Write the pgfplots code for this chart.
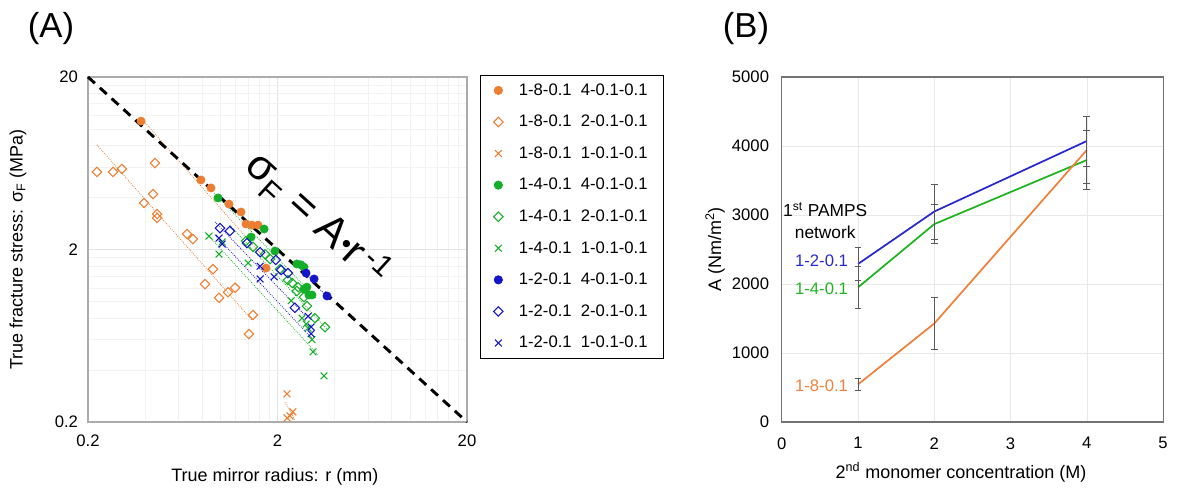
\documentclass[border=0pt]{standalone}
\usepackage{pgfplots}
\pgfplotsset{compat=1.18}
\usepackage{fontspec}
\setmainfont{Liberation Sans}
\definecolor{cO}{RGB}{237,125,49}
\definecolor{cG}{RGB}{20,175,40}
\definecolor{cB}{RGB}{20,20,200}
\definecolor{lO}{RGB}{240,128,60}
\definecolor{lG}{RGB}{30,180,30}
\definecolor{lB}{RGB}{40,40,210}

% fracture stress vs mirror radius (r in mm, sigma_F in MPa)
\pgfplotstableread{
r     s
0.381 11.1
0.789 5.06
0.891 4.55
1.109 3.67
1.284 3.30
1.364 2.81
1.467 2.77
1.578 2.77
1.74  1.56
}\tOfour
\pgfplotstableread{
r     s
0.223 5.63
0.271 5.63
0.302 5.86
0.451 6.34
0.441 4.19
0.395 3.72
0.463 3.21
0.463 3.05
0.666 2.46
0.716 2.30
0.913 1.54
0.829 1.26
0.983 1.05
1.096 1.13
1.194 1.20
1.485 0.834
1.414 0.647
}\tOtwo
\pgfplotstableread{
r     s
2.245 0.291
2.41  0.229
2.245 0.211
2.33  0.217
}\tOone
\pgfplotstableread{
r     s
0.971 3.98
1.70  2.63
1.45  2.36
1.94  1.96
2.53  1.65
2.66  1.63
2.76  1.58
2.86  1.21
2.76  1.18
3.04  1.09
2.93  1.09
}\tGfour
\pgfplotstableread{
r     s
1.364 2.24
1.485 2.07
1.72  1.88
1.83  1.76
2.06  1.54
2.27  1.33
2.39  1.28
2.57  1.21
2.53  1.15
2.76  1.06
2.86  0.94
3.15  0.80
3.56  0.71
}\tGtwo
\pgfplotstableread{
r     s
0.870 2.39
0.983 1.88
1.02  2.21
1.40  1.67
2.36  1.01
2.69  0.80
2.83  0.74
2.90  0.70
3.04  0.60
3.08  0.51
3.52  0.37
}\tGone
\pgfplotstableread{
r     s
2.83  1.46
3.12  1.35
3.65  1.075
}\tBfour
\pgfplotstableread{
r     s
0.995 2.66
1.12  2.56
1.38  2.18
1.62  1.93
1.96  1.74
2.09  1.52
2.27  1.46
2.47  0.92
}\tBtwo
\pgfplotstableread{
r     s
0.983 2.33
1.02  2.15
1.62  1.60
1.62  1.35
1.92  1.39
2.90  0.82
3.01  0.71
3.01  0.65
}\tBone

\begin{document}
\begin{tikzpicture}
\useasboundingbox (0,0) rectangle (883.5pt,370.5pt);
\pgfplotsset{every axis/.append style={font=\fontsize{12.5}{15}\selectfont},
  every axis label/.append style={font=\fontsize{13.5}{16}\selectfont},
  /pgf/number format/assume math mode=true}

% ---------- (A) ----------
\begin{axis}[
  at={(66pt,54pt)}, anchor=south west,
  scale only axis, width=284.25pt, height=258.75pt,
  xmode=log, ymode=log,
  xmin=0.2, xmax=20, ymin=0.2, ymax=20,
  xtick={0.2,2,20}, xticklabels={0.2,2,20},
  ytick={0.2,2,20}, yticklabels={0.2,2,20},
  minor xtick={0.4,0.6,0.8,1,1.2,1.4,1.6,1.8,4,6,8,10,12,14,16,18},
  minor ytick={0.4,0.6,0.8,1,1.2,1.4,1.6,1.8,4,6,8,10,12,14,16,18},
  grid=both, major grid style={gray!22}, minor grid style={gray!10},
  major tick length=0pt, minor tick length=0pt,
  xticklabel style={yshift=-6pt}, yticklabel style={xshift=-4pt},
  axis line style={gray!65, line width=0.8pt},
  xlabel={True mirror radius: r (mm)},
  ylabel={True fracture stress: σ\textsubscript{F} (MPa)},
  xlabel style={at={(axis description cs:0.493,-0.16)}, anchor=center},
  ylabel style={at={(axis description cs:-0.185,0.5)}, anchor=center},
  legend style={at={(1.034,1.006)}, anchor=north west, draw=black,
    line width=0.6pt, font=\fontsize{12.5}{15}\selectfont,
    row sep=9.45pt, inner xsep=10pt, inner ysep=4.2pt},
  legend image code/.code={\draw[#1] plot coordinates {(0pt,0pt)};
    \path[draw=none] (0pt,0pt) -- (13.4pt,0pt);},
  legend cell align=left,
  clip=false,
]
% power-law trend lines
\addplot[forget plot, cO, densely dotted, line width=0.6pt] coordinates {(0.381,11.57) (1.78,1.69)};
\addplot[forget plot, cO, densely dotted, line width=0.6pt] coordinates {(0.223,8.07) (1.467,0.78)};
\addplot[forget plot, cO, densely dotted, line width=0.6pt] coordinates {(2.19,0.261) (2.47,0.205)};
\addplot[forget plot, cG, densely dotted, line width=0.6pt] coordinates {(0.925,4.25) (3.19,1.05)};
\addplot[forget plot, cG, densely dotted, line width=0.6pt] coordinates {(1.12,2.77) (3.70,0.68)};
\addplot[forget plot, cG, densely dotted, line width=0.6pt] coordinates {(0.829,2.53) (3.27,0.49)};
\addplot[forget plot, cB, densely dotted, line width=0.6pt] coordinates {(2.63,1.56) (3.78,1.02)};
\addplot[forget plot, cB, densely dotted, line width=0.6pt] coordinates {(0.936,2.89) (2.79,0.834)};
\addplot[forget plot, cB, densely dotted, line width=0.6pt] coordinates {(0.936,2.43) (3.04,0.61)};

\addplot[only marks, mark=*, mark size=3.1pt, cO] table {\tOfour};
\addlegendentry{1-8-0.1~~4-0.1-0.1}
\addplot[only marks, mark=square, mark size=2.5pt, mark options={rotate=45, line width=0.8pt}, cO] table {\tOtwo};
\addlegendentry{1-8-0.1~~2-0.1-0.1}
\addplot[only marks, mark=x, mark size=3.6pt, mark options={line width=0.8pt}, cO] table {\tOone};
\addlegendentry{1-8-0.1~~1-0.1-0.1}
\addplot[only marks, mark=*, mark size=3.1pt, cG] table {\tGfour};
\addlegendentry{1-4-0.1~~4-0.1-0.1}
\addplot[only marks, mark=square, mark size=2.5pt, mark options={rotate=45, line width=0.8pt}, cG] table {\tGtwo};
\addlegendentry{1-4-0.1~~2-0.1-0.1}
\addplot[only marks, mark=x, mark size=3.6pt, mark options={line width=0.8pt}, cG] table {\tGone};
\addlegendentry{1-4-0.1~~1-0.1-0.1}
\addplot[only marks, mark=*, mark size=3.1pt, cB] table {\tBfour};
\addlegendentry{1-2-0.1~~4-0.1-0.1}
\addplot[only marks, mark=square, mark size=2.5pt, mark options={rotate=45, line width=0.8pt}, cB] table {\tBtwo};
\addlegendentry{1-2-0.1~~2-0.1-0.1}
\addplot[only marks, mark=x, mark size=3.6pt, mark options={line width=0.8pt}, cB] table {\tBone};
\addlegendentry{1-2-0.1~~1-0.1-0.1}

% sigma_F = A / r with A = 4
\addplot[forget plot, black, line width=2.2pt, dash pattern=on 7pt off 5pt] coordinates {(0.2,20) (20,0.2)};
\node[rotate=-42.3, font=\fontsize{32}{32}\selectfont] at (axis cs:3.23,2.97)
  {σ\textsubscript{F} = A\raisebox{0.12em}{\fontsize{20}{20}\selectfont •}r\textsuperscript{\,-1}};
\end{axis}

% ---------- (B) ----------
\begin{axis}[
  at={(586.3pt,54pt)}, anchor=south west,
  scale only axis, width=286pt, height=258.75pt,
  xmin=0, xmax=5, ymin=0, ymax=5000,
  xtick={0,1,2,3,4,5}, ytick={0,1000,2000,3000,4000,5000},
  scaled y ticks=false, yticklabel style={/pgf/number format/1000 sep={}, xshift=-6pt},
  xticklabel style={yshift=-8pt},
  grid=major, major grid style={gray!18},
  major tick length=0pt,
  axis line style={gray!90!black, line width=0.8pt},
  xlabel={2\textsuperscript{nd} monomer concentration (M)},
  ylabel={A (Nm/m\textsuperscript{2})},
  xlabel style={at={(axis description cs:0.47,-0.145)}, anchor=center},
  ylabel style={at={(axis description cs:-0.175,0.5)}, anchor=center},
  error bars/y dir=both, error bars/y explicit,
  error bars/error bar style={gray!70!black, line width=0.5pt},
  error bars/error mark options={gray!70!black, mark size=2.6pt, line width=0.5pt, rotate=90},
  clip=false,
]
\addplot[lB, line width=1.3pt] coordinates {(1,2290) +- (0,240) (2,3050) +- (0,396) (4,4072) +- (0,360)};
\addplot[lG, line width=1.3pt] coordinates {(1,1951) +- (0,310) (2,2868) +- (0,280) (4,3797) +- (0,430)};
\addplot[lO, line width=1.3pt] coordinates {(1,545) +- (0,85) (2,1427) +- (0,376) (4,3942) +- (0,490)};
\node[font=\fontsize{13}{15}\selectfont] at (axis cs:0.57,3072) {1\textsuperscript{st} PAMPS};
\node[font=\fontsize{13}{15}\selectfont] at (axis cs:0.57,2754) {network};
\node[anchor=east, lB, font=\fontsize{12.5}{15}\selectfont] at (axis cs:0.93,2337) {1-2-0.1};
\node[anchor=east, lG, font=\fontsize{12.5}{15}\selectfont] at (axis cs:0.93,1933) {1-4-0.1};
\node[anchor=east, lO, font=\fontsize{12.5}{15}\selectfont] at (axis cs:0.93,531) {1-8-0.1};
\end{axis}

\node[font=\fontsize{26}{30}\selectfont] at (38.25pt,348.75pt) {(A)};
\node[font=\fontsize{26}{30}\selectfont] at (559.5pt,348.75pt) {(B)};
\end{tikzpicture}
\end{document}
